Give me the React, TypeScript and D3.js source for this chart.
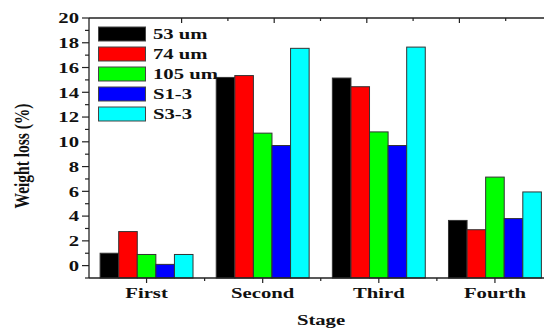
import { useEffect, useRef } from 'react';
import * as d3 from 'd3';

// Stage categories and series
const stages = ['First', 'Second', 'Third', 'Fourth'];
const seriesNames = ['53 um', '74 um', '105 um', 'S1-3', 'S3-3'];
const seriesColors = ['#000000', '#ff0000', '#00ff00', '#0000ff', '#00ffff'];
const values53 = [1.0, 15.2, 15.15, 3.65];
const values74 = [2.75, 15.35, 14.45, 2.9];
const values105 = [0.9, 10.7, 10.8, 7.15];
const valuesS1 = [0.1, 9.7, 9.7, 3.8];
const valuesS3 = [0.9, 17.55, 17.65, 5.95];
const yTicks = [0, 2, 4, 6, 8, 10, 12, 14, 16, 18, 20];

const W = 544;
const H = 329;
const FONT = '"Liberation Serif", "Times New Roman", serif';
const STRETCH = 1.38;

export default function App() {
    const svgRef = useRef<SVGSVGElement>(null);

    useEffect(() => {
        if (!svgRef.current) return;
        const svg = d3.select(svgRef.current);
        svg.selectAll('*').remove();

        const left = 89;
        const right = 553;
        const top = 18;
        const bottom = 278;

        const allSeries = [values53, values74, values105, valuesS1, valuesS3];

        const x = d3.scaleBand<string>()
            .domain(stages)
            .range([left - 0.5, right])
            .paddingInner(0.2)
            .paddingOuter(0.1);

        const xInner = d3.scaleBand<string>()
            .domain(seriesNames)
            .range([0, x.bandwidth()]);

        const y = d3.scaleLinear().domain([-1, 20]).range([bottom, top]);

        // top axis has its own spacing in the original
        const xTop = d3.scaleLinear().domain([0, 10]).range([left, right - 1]);

        const axisColor = '#222';

        // Bars
        const g = svg.append('g');
        stages.forEach((stage, i) => {
            allSeries.forEach((vals, s) => {
                const x0 = (x(stage) ?? 0) + (xInner(seriesNames[s]) ?? 0);
                g.append('rect')
                    .attr('x', x0)
                    .attr('y', y(vals[i]))
                    .attr('width', xInner.bandwidth())
                    .attr('height', y(-1) - y(vals[i]))
                    .attr('fill', seriesColors[s])
                    .attr('stroke', '#333')
                    .attr('stroke-width', 1);
            });
        });

        // Axis lines
        svg.append('line')
            .attr('x1', left).attr('x2', left)
            .attr('y1', top).attr('y2', bottom)
            .attr('stroke', axisColor).attr('stroke-width', 1.3);
        svg.append('line')
            .attr('x1', left).attr('x2', W)
            .attr('y1', bottom).attr('y2', bottom)
            .attr('stroke', axisColor).attr('stroke-width', 1.3);
        svg.append('line')
            .attr('x1', left).attr('x2', W)
            .attr('y1', top).attr('y2', top)
            .attr('stroke', axisColor).attr('stroke-width', 1.3);

        // Y ticks (major + minor), pointing out
        d3.range(-1, 21).forEach(v => {
            const major = v % 2 === 0;
            svg.append('line')
                .attr('x1', left - (major ? 7 : 4)).attr('x2', left)
                .attr('y1', y(v)).attr('y2', y(v))
                .attr('stroke', axisColor).attr('stroke-width', 1.2);
        });

        yTicks.forEach(v => {
            svg.append('text')
                .attr('transform', `translate(79,${y(v)}) scale(${STRETCH},1)`)
                .attr('text-anchor', 'end')
                .attr('dy', '0.35em')
                .attr('font-family', FONT)
                .attr('font-weight', 700)
                .attr('font-size', 15)
                .attr('fill', '#111')
                .text(v);
        });

        // Bottom ticks: major at stage centres, minor between
        stages.forEach((stage, i) => {
            const cx = (x(stage) ?? 0) + x.bandwidth() / 2;
            svg.append('line')
                .attr('x1', cx).attr('x2', cx)
                .attr('y1', bottom).attr('y2', bottom + 5)
                .attr('stroke', axisColor).attr('stroke-width', 1.2);
            if (i > 0) {
                const mx = cx - x.step() / 2;
                svg.append('line')
                    .attr('x1', mx).attr('x2', mx)
                    .attr('y1', bottom).attr('y2', bottom + 3)
                    .attr('stroke', axisColor).attr('stroke-width', 1.2);
            }
            svg.append('text')
                .attr('transform', `translate(${cx},298) scale(${STRETCH},1)`)
                .attr('text-anchor', 'middle')
                .attr('font-family', FONT)
                .attr('font-weight', 700)
                .attr('font-size', 15)
                .attr('fill', '#111')
                .text(stage);
        });

        // Top ticks, pointing into the plot
        d3.range(2, 10).forEach(t => {
            const major = t % 2 === 0;
            svg.append('line')
                .attr('x1', xTop(t)).attr('x2', xTop(t))
                .attr('y1', top).attr('y2', top + (major ? 5 : 3))
                .attr('stroke', axisColor).attr('stroke-width', 1.2);
        });

        // Axis titles
        svg.append('text')
            .attr('transform', `translate(321,325) scale(${STRETCH},1)`)
            .attr('text-anchor', 'middle')
            .attr('font-family', FONT)
            .attr('font-weight', 700)
            .attr('font-size', 15)
            .attr('fill', '#111')
            .text('Stage');

        svg.append('text')
            .attr('transform', `translate(29,156) scale(${STRETCH},1) rotate(-90)`)
            .attr('text-anchor', 'middle')
            .attr('font-family', FONT)
            .attr('font-weight', 700)
            .attr('font-size', 15.5)
            .attr('fill', '#111')
            .text('Weight loss (%)');

        // Legend
        const legend = svg.append('g');
        seriesNames.forEach((name, s) => {
            const cy = 34 + s * 20;
            legend.append('rect')
                .attr('x', 98.5).attr('y', cy - 7)
                .attr('width', 47).attr('height', 14)
                .attr('fill', seriesColors[s])
                .attr('stroke', '#444').attr('stroke-width', 1);
            legend.append('text')
                .attr('transform', `translate(153,${cy}) scale(${STRETCH},1)`)
                .attr('dy', '0.35em')
                .attr('font-family', FONT)
                .attr('font-weight', 700)
                .attr('font-size', 15)
                .attr('fill', '#111')
                .text(name);
        });
    }, []);

    return (
        <svg
            ref={svgRef}
            width={W}
            height={H}
            style={{ position: 'absolute', left: 0, top: 0, background: '#fff' }}
        />
    );
}
